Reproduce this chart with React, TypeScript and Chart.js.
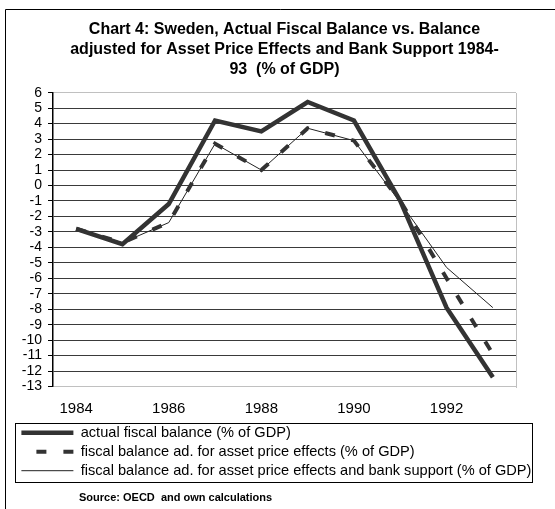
import { useEffect, useRef } from 'react';
import { Chart, registerables } from 'chart.js';

Chart.register(...registerables);

const years = ['1984', '1985', '1986', '1987', '1988', '1989', '1990', '1991', '1992', '1993'];
const actualBalance = [-2.8, -3.8, -1.2, 4.2, 3.5, 5.4, 4.2, -1.0, -7.9, -12.4];
const assetAdjusted = [-2.8, -3.7, -2.4, 2.7, 1.0, 3.7, 2.9, -1.0, -6.0, -10.9];
const bankAdjusted = [-2.8, -3.7, -2.4, 2.7, 1.0, 3.7, 2.9, -1.1, -5.3, -7.9];
const seriesNames = [
  'actual fiscal balance (% of GDP)',
  'fiscal balance ad. for asset price effects (% of GDP)',
  'fiscal balance ad. for asset price effects and bank support (% of GDP)',
];
const titleLines = [
  'Chart 4: Sweden, Actual Fiscal Balance vs. Balance',
  'adjusted for Asset Price Effects and Bank Support 1984-',
  '93  (% of GDP)',
];
const sourceNote = 'Source: OECD  and own calculations';
const yMin = -13;
const yMax = 6;

const FONT = '"Liberation Sans", Arial, sans-serif';

const decorPlugin = {
  id: 'decor',
  beforeDatasetsDraw(chart: any) {
    const { ctx, chartArea: a } = chart;
    ctx.save();
    ctx.strokeStyle = '#c0c0c0';
    ctx.lineWidth = 1;
    ctx.beginPath();
    const r = Math.round(a.right) + 0.5;
    ctx.moveTo(r, Math.round(a.top));
    ctx.lineTo(r, Math.round(a.bottom) + 1);
    ctx.stroke();
    ctx.restore();
  },
  afterDraw(chart: any) {
    const { ctx, width, height } = chart;
    ctx.save();
    ctx.strokeStyle = '#000';
    ctx.lineWidth = 1;
    ctx.setLineDash([]);
    // outer frame
    ctx.beginPath();
    ctx.moveTo(5.5, height);
    ctx.lineTo(5.5, 9.5);
    ctx.lineTo(width, 9.5);
    ctx.stroke();
    // legend border
    const hb = chart.legend?.legendHitBoxes || [];
    if (hb.length) {
      const left = Math.min(...hb.map((h: any) => h.left)) - 6;
      const right = Math.max(...hb.map((h: any) => h.left + h.width)) + 1;
      const top = hb[0].top - 2;
      const last = hb[hb.length - 1];
      const bottom = last.top + last.height + 4;
      ctx.strokeRect(Math.round(left) + 0.5, Math.round(top) + 0.5, Math.round(right - left), Math.round(bottom - top));
    }
    // source note
    ctx.fillStyle = '#000';
    ctx.font = `bold 11px ${FONT}`;
    ctx.textBaseline = 'middle';
    ctx.textAlign = 'left';
    ctx.fillText(sourceNote, 79, 498);
    ctx.restore();
  },
};

export default function App() {
  const ref = useRef<HTMLCanvasElement | null>(null);

  useEffect(() => {
    if (!ref.current) return;
    const chart = new Chart(ref.current, {
      type: 'line',
      data: {
        labels: years,
        datasets: [
          {
            label: seriesNames[0],
            data: actualBalance,
            borderColor: '#333333',
            backgroundColor: '#333333',
            borderWidth: 4.5,
            pointRadius: 0,
            pointStyle: 'line',
            tension: 0,
            yAxisID: 'y',
          },
          {
            label: seriesNames[1],
            data: assetAdjusted,
            borderColor: '#333333',
            backgroundColor: '#333333',
            borderWidth: 4,
            borderDash: [10, 17],
            pointRadius: 0,
            pointStyle: 'line',
            tension: 0,
            yAxisID: 'y',
          },
          {
            label: seriesNames[2],
            data: bankAdjusted,
            borderColor: '#222222',
            backgroundColor: '#222222',
            borderWidth: 1,
            pointRadius: 0,
            pointStyle: 'line',
            tension: 0,
            yAxisID: 'y',
          },
        ],
      },
      options: {
        responsive: false,
        animation: false,
        devicePixelRatio: 1,
        layout: { padding: { left: 17, right: 0, top: 0, bottom: 21 } },
        plugins: {
          title: {
            display: true,
            text: titleLines,
            fullSize: false,
            color: '#000',
            font: { family: FONT, size: 16, weight: 'bold', lineHeight: 20 / 16 },
            padding: { top: 20, bottom: 12.7 },
          },
          legend: {
            display: true,
            position: 'bottom',
            align: 'start',
            labels: {
              usePointStyle: true,
              pointStyleWidth: 52,
              color: '#000',
              font: { family: FONT, size: 14.6 },
              padding: 4.4,
              generateLabels(ch: any) {
                const items = Chart.defaults.plugins.legend.labels.generateLabels(ch);
                return items.map((it: any) => {
                  const ds = ch.data.datasets[it.datasetIndex];
                  return {
                    ...it,
                    pointStyle: 'line',
                    lineWidth: ds.borderWidth,
                    lineDash: ds.borderDash || [],
                    lineDashOffset: ds.borderDash ? 12 : 0,
                    strokeStyle: ds.borderColor,
                    fillStyle: ds.borderColor,
                    fontColor: '#000',
                  };
                });
              },
            },
          },
          tooltip: { enabled: false },
        },
        scales: {
          x: {
            type: 'category',
            offset: true,
            grid: { display: false, drawTicks: false },
            border: { display: false },
            afterFit(scale: any) {
              scale.height = 34.5;
            },
            ticks: {
              autoSkip: false,
              maxRotation: 0,
              padding: 13.5,
              color: '#000',
              font: { family: FONT, size: 15 },
              callback(_v: any, i: number) {
                return i % 2 === 0 ? years[i] : '';
              },
            },
          },
          y: {
            min: yMin,
            max: yMax,
            afterFit(scale: any) {
              scale.width = 36;
            },
            ticks: {
              stepSize: 1,
              autoSkip: false,
              padding: 6,
              color: '#000',
              font: { family: FONT, size: 14 },
            },
            grid: {
              color: (c: any) =>
                c.tick && (c.tick.value === yMax || c.tick.value === yMin) ? '#c0c0c0' : '#3a3a3a',
              lineWidth: 1,
              drawTicks: true,
              tickLength: 5,
              tickColor: '#000',
            },
            border: { display: true, color: '#000', width: 1.5 },
          },
          yRight: {
            type: 'linear',
            position: 'right',
            min: yMin,
            max: yMax,
            grid: { display: false, drawTicks: false },
            border: { display: false },
            ticks: { display: false },
            afterFit(scale: any) {
              scale.width = 39;
            },
          },
        },
      },
      plugins: [decorPlugin],
    });
    return () => chart.destroy();
  }, []);

  return (
    <div style={{ position: 'absolute', left: 0, top: 0, width: 555, height: 509, overflow: 'hidden', background: '#fff' }}>
      <canvas ref={ref} width={555} height={509} style={{ display: 'block', width: 555, height: 509 }} />
    </div>
  );
}
